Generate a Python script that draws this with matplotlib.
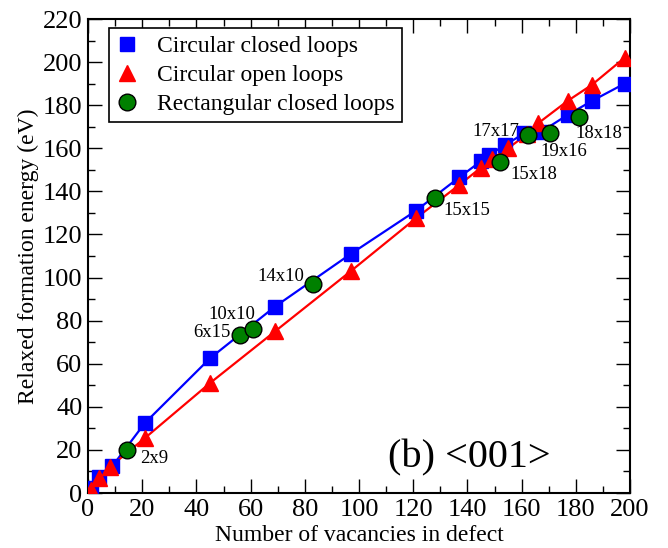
import numpy as np
import matplotlib
matplotlib.use("Agg")
import matplotlib.pyplot as plt

# circular closed loops
x_closed = [1, 4, 9, 21, 45, 69, 97, 121, 137, 145, 148, 154, 161, 167, 177, 186, 198]
y_closed = [2.5, 7.5, 12.5, 32.5, 62.5, 86.5, 111, 131, 146.5, 154, 157, 161.5, 167, 167.5, 175.5, 182, 190]

# circular open loops
x_open = [1, 4, 8, 21, 45, 69, 97, 121, 137, 145, 149, 155, 162, 166, 177, 186, 198]
y_open = [1.5, 7, 12, 25.5, 51, 75, 103, 127.5, 143, 151, 155, 160, 166.5, 171.5, 182, 189.5, 202]

# rectangular closed loops
x_rect = [14.5, 56, 61, 83, 128, 152, 162.5, 170.5, 181]
y_rect = [20, 73.5, 76, 97, 137, 153.5, 166, 167, 174.5]
rect_names = ["2x9", "6x15", "10x10", "14x10", "15x15", "15x18", "17x17", "19x16", "18x18"]

# where the size labels go (left edge, vertical centre)
name_x = [19.2, 38.7, 44.3, 62.4, 131, 155.7, 141.7, 166.8, 179.7]
name_y = [16.2, 74.7, 83, 100.7, 130.9, 147.6, 168, 158.7, 167]

plt.rcParams["font.family"] = ["Liberation Serif", "DejaVu Serif"]

fig = plt.figure(figsize=(6.68, 5.48), dpi=100)
ax = fig.add_axes([88 / 668, 1 - 493 / 548, 542 / 668, 474 / 548])

ax.plot(x_closed, y_closed, color="blue", lw=1.6, zorder=2)
ax.plot(x_open, y_open, color="red", lw=1.6, zorder=2)
ax.plot(x_closed, y_closed, "s", color="blue", ms=10.5, ls="none",
        label="Circular closed loops", zorder=3)
ax.plot(x_open, y_open, "^", color="red", ms=11, ls="none",
        label="Circular open loops", zorder=4)
ax.plot(x_rect, y_rect, "o", color="green", mec="black", mew=1, ms=12, ls="none",
        label="Rectangular closed loops", zorder=5)

for nx, ny, name in zip(name_x, name_y, rect_names):
    ax.text(nx, ny, name, fontsize=13.5, ha="left", va="center")

ax.text(110.7, 16.5, "(b) <001>", fontsize=29, ha="left", va="center")

ax.set_xlim(0, 200)
ax.set_ylim(0, 220)
ax.set_xticks(np.arange(0, 201, 20))
ax.set_yticks(np.arange(0, 221, 20))
ax.set_xticks(np.arange(0, 201, 10), minor=True)
ax.set_yticks(np.arange(0, 221, 10), minor=True)
ax.tick_params(which="both", direction="in", top=True, right=True, labelsize=19)
ax.tick_params(axis="x", pad=4)
ax.tick_params(axis="y", pad=4)
ax.tick_params(which="major", length=10, width=1)
ax.tick_params(which="minor", length=5, width=1)
for s in ax.spines.values():
    s.set_linewidth(1.5)

ax.set_xlabel("Number of vacancies in defect", fontsize=17, labelpad=3)
ax.set_ylabel("Relaxed formation energy (eV)", fontsize=17, labelpad=3)

leg = ax.legend(loc="upper left", bbox_to_anchor=(0.038, 0.98), borderaxespad=0,
                fontsize=17, fancybox=False, edgecolor="black", framealpha=1,
                handletextpad=0.75, labelspacing=0.32, borderpad=0.3, handlelength=1.0)
leg.get_frame().set_linewidth(1.2)

fig.savefig("out.png", dpi=100)
